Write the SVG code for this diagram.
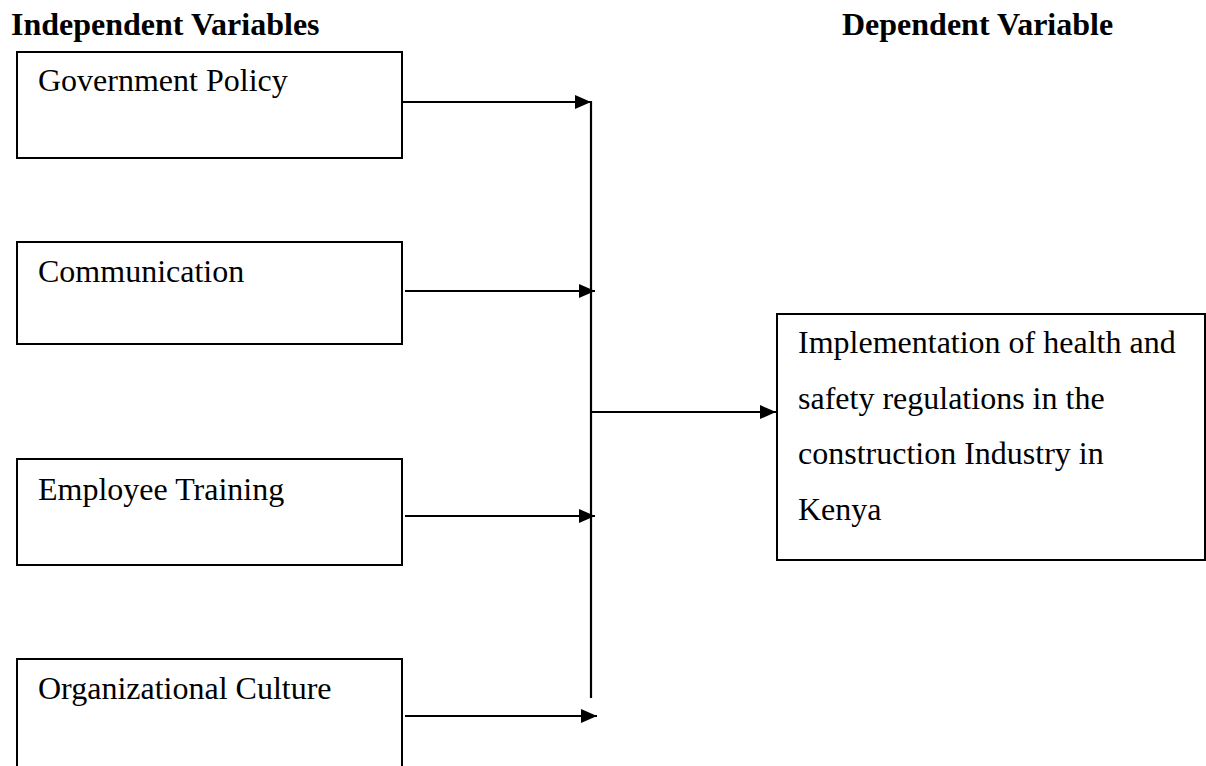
<svg xmlns="http://www.w3.org/2000/svg" width="1206" height="766" viewBox="0 0 1206 766">
  <style>
    .box { fill: #ffffff; stroke: #000000; stroke-width: 2; }
    .lbl { font-family: "Liberation Serif", "Times New Roman", serif; font-size: 32px; fill: #000000; }
    .hdr { font-family: "Liberation Serif", "Times New Roman", serif; font-size: 32px; font-weight: bold; fill: #000000; }
    .conn { stroke: #000000; stroke-width: 2.2; fill: none; }
  </style>
  <defs>
    <marker id="arrow" markerUnits="userSpaceOnUse" markerWidth="16" markerHeight="14" refX="16" refY="7" orient="auto">
      <path d="M0,0 L16,7 L0,14 Z" fill="#000000"/>
    </marker>
  </defs>
  <rect width="1206" height="766" fill="#ffffff"/>
  <text class="hdr" x="11" y="35">Independent Variables</text>
  <text class="hdr" x="842" y="35">Dependent Variable</text>

  <g id="node-government-policy">
    <rect class="box" x="17" y="52" width="385" height="106"/>
    <text class="lbl" x="38" y="91">Government Policy</text>
  </g>
  <g id="node-communication">
    <rect class="box" x="17" y="242" width="385" height="102"/>
    <text class="lbl" x="38" y="282">Communication</text>
  </g>
  <g id="node-employee-training">
    <rect class="box" x="17" y="459" width="385" height="106"/>
    <text class="lbl" x="38" y="500">Employee Training</text>
  </g>
  <g id="node-organizational-culture">
    <rect class="box" x="17" y="659" width="385" height="130"/>
    <text class="lbl" x="38" y="699">Organizational Culture</text>
  </g>
  <g id="node-implementation">
    <rect class="box" x="777" y="314" width="428" height="246"/>
    <text class="lbl" x="798" y="353">Implementation of health and</text>
    <text class="lbl" x="798" y="408.5">safety regulations in the</text>
    <text class="lbl" x="798" y="464">construction Industry in</text>
    <text class="lbl" x="798" y="519.5">Kenya</text>
  </g>

  <g id="connectors">
    <line class="conn" x1="402" y1="102" x2="591" y2="102" marker-end="url(#arrow)"/>
    <line class="conn" x1="405" y1="291" x2="595" y2="291" marker-end="url(#arrow)"/>
    <line class="conn" x1="405" y1="516" x2="595" y2="516" marker-end="url(#arrow)"/>
    <line class="conn" x1="405" y1="716" x2="597" y2="716" marker-end="url(#arrow)"/>
    <line class="conn" x1="591" y1="101" x2="591" y2="698" stroke-width="1.8"/>
    <line class="conn" x1="590" y1="412" x2="776" y2="412" marker-end="url(#arrow)"/>
  </g>
</svg>
